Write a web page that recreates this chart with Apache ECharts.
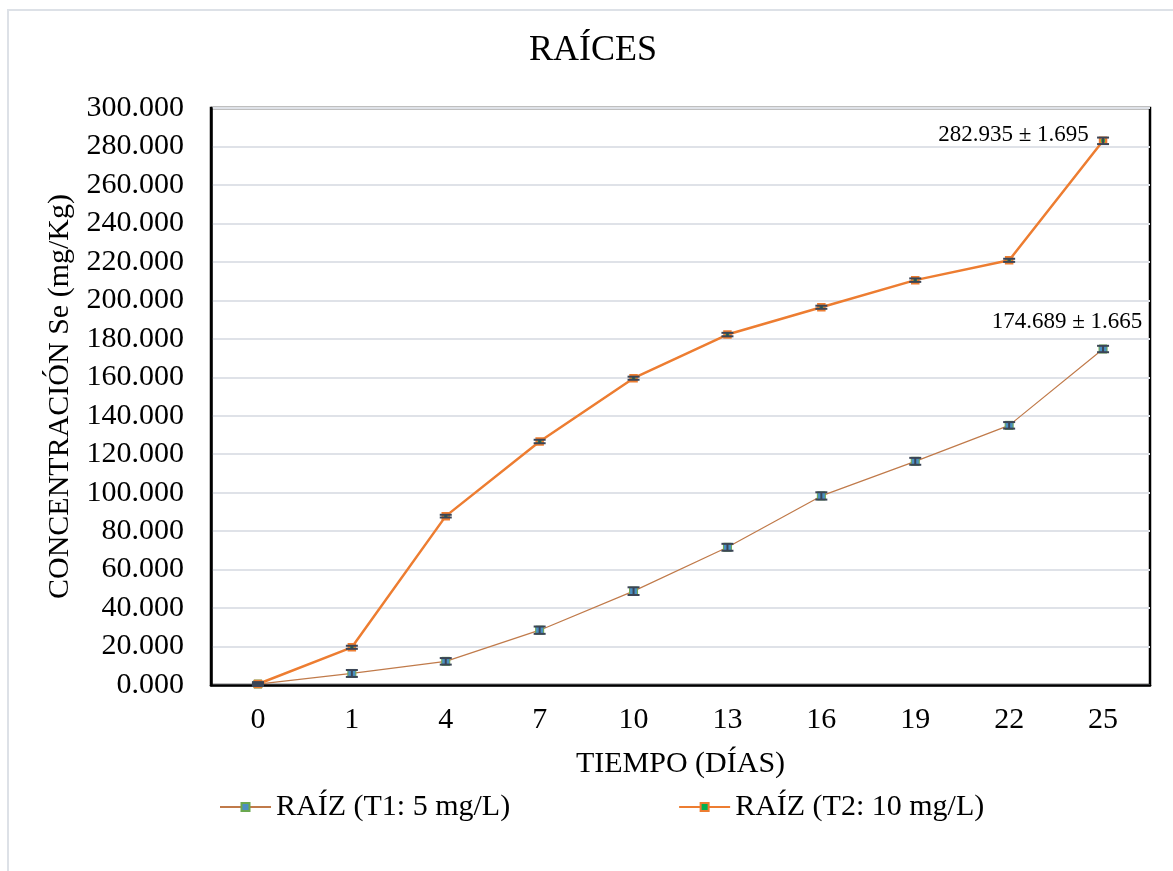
<!DOCTYPE html>
<html>
<head>
<meta charset="utf-8">
<style>
  html, body { margin: 0; padding: 0; background: #ffffff; }
  #chart { width: 1173px; height: 871px; }
</style>
<script src="https://cdn.jsdelivr.net/npm/echarts@6/dist/echarts.min.js"></script>
</head>
<body>
<div id="chart"></div>
<script>
// datos
const dias = ['0', '1', '4', '7', '10', '13', '16', '19', '22', '25'];
const raizT1 = [0.5, 6.0, 12.3, 28.5, 48.8, 71.6, 98.3, 116.3, 135.0, 174.689];
const errT1 = [1.0, 1.8, 1.7, 1.9, 2.0, 1.8, 1.9, 1.8, 1.7, 1.665];
const raizT2 = [0.5, 19.6, 87.8, 126.6, 159.5, 182.2, 196.4, 210.5, 220.8, 282.935];
const errT2 = [0.5, 0.8, 0.7, 0.9, 0.8, 0.9, 0.8, 0.9, 0.8, 1.695];
const yTicks = { min: 0, max: 300, interval: 20 };

const FONT = 'Liberation Serif';
const chart = echarts.init(document.getElementById('chart'));

function etiqueta(vals, errs, i) {
  return vals[i].toFixed(3) + ' ± ' + errs[i].toFixed(3);
}

// solo el ultimo punto lleva etiqueta
function conEtiqueta(vals, errs, labelOpts) {
  return vals.map((v, i) => {
    if (i !== vals.length - 1) return v;
    return { value: v, label: Object.assign({ show: true, formatter: etiqueta(vals, errs, i) }, labelOpts) };
  });
}

function errorBars(vals, errs) {
  return vals.map((v, i) => [i, v - errs[i], v + errs[i]]);
}

function renderError(params, api) {
  const x = api.value(0);
  const lo = api.coord([x, api.value(1)]);
  const hi = api.coord([x, api.value(2)]);
  const w = 6;
  const st = { stroke: '#3b4556', lineWidth: 2 };
  return {
    type: 'group',
    children: [
      { type: 'line', shape: { x1: hi[0], y1: hi[1], x2: lo[0], y2: lo[1] }, style: st },
      { type: 'line', shape: { x1: hi[0] - w, y1: hi[1], x2: hi[0] + w, y2: hi[1] }, style: st },
      { type: 'line', shape: { x1: lo[0] - w, y1: lo[1], x2: lo[0] + w, y2: lo[1] }, style: st }
    ]
  };
}

const option = {
  backgroundColor: '#ffffff',
  animation: false,
  textStyle: { fontFamily: FONT, color: '#000' },
  graphic: [{
    type: 'rect', silent: true, z: -10,
    shape: { x: 8, y: 10, width: 1200, height: 900 },
    style: { fill: 'none', stroke: '#dde1e7', lineWidth: 2 }
  }],
  title: {
    text: 'RAÍCES',
    left: 529,
    top: 33,
    padding: 0,
    textStyle: { fontFamily: FONT, fontSize: 36, fontWeight: 'normal', color: '#000' }
  },
  legend: {
    left: 219,
    top: 792,
    padding: 0,
    itemGap: 168,
    itemWidth: 51,
    itemHeight: 10,
    textStyle: { fontFamily: FONT, fontSize: 30, color: '#000' },
    data: ['RAÍZ (T1: 5 mg/L)', 'RAÍZ (T2: 10 mg/L)']
  },
  grid: {
    left: 211, right: 23, top: 108, bottom: 186,
    show: true, borderColor: '#000', borderWidth: 2.5
  },
  xAxis: {
    type: 'category',
    data: dias,
    boundaryGap: true,
    name: 'TIEMPO (DÍAS)',
    nameLocation: 'middle',
    nameGap: 64,
    nameTextStyle: { fontFamily: FONT, fontSize: 30, color: '#000' },
    axisLine: { lineStyle: { color: '#000', width: 2.5 } },
    axisTick: { show: false },
    axisLabel: { fontFamily: FONT, fontSize: 30, color: '#000', margin: 20 }
  },
  yAxis: {
    type: 'value',
    min: yTicks.min, max: yTicks.max, interval: yTicks.interval,
    name: 'CONCENTRACIÓN Se (mg/Kg)',
    nameLocation: 'middle',
    nameGap: 134,
    nameTextStyle: { fontFamily: FONT, fontSize: 30, color: '#000' },
    axisLine: { show: true, lineStyle: { color: '#000', width: 2.5 } },
    axisTick: { show: false },
    axisLabel: { fontFamily: FONT, fontSize: 30, color: '#000', margin: 27,
      formatter: v => v.toFixed(3) },
    splitLine: { lineStyle: { color: '#dfe2e8', width: 2 } }
  },
  series: [
    {
      name: 'RAÍZ (T1: 5 mg/L)',
      type: 'line',
      data: conEtiqueta(raizT1, errT1, {
        position: 'top', offset: [-36, -6],
        fontFamily: FONT, fontSize: 23, color: '#000'
      }),
      symbol: 'rect',
      symbolSize: 8,
      lineStyle: { color: '#c07a4a', width: 1.2 },
      itemStyle: { color: '#4b8fc2', borderColor: '#6aa84f', borderWidth: 1 },
      z: 3
    },
    {
      name: 'RAÍZ (T2: 10 mg/L)',
      type: 'line',
      data: conEtiqueta(raizT2, errT2, {
        position: 'left', distance: 10, offset: [0, -6],
        fontFamily: FONT, fontSize: 23, color: '#000'
      }),
      symbol: 'rect',
      symbolSize: 6,
      lineStyle: { color: '#ed7d31', width: 2.5 },
      itemStyle: { color: '#00b050', borderColor: '#ed7d31', borderWidth: 2.5 },
      z: 4
    },
    {
      type: 'custom',
      name: 'errT1',
      renderItem: renderError,
      data: errorBars(raizT1, errT1),
      encode: { x: 0, y: [1, 2] },
      z: 5,
      silent: true
    },
    {
      type: 'custom',
      name: 'errT2',
      renderItem: renderError,
      data: errorBars(raizT2, errT2),
      encode: { x: 0, y: [1, 2] },
      z: 5,
      silent: true
    }
  ]
};

chart.setOption(option);
</script>
</body>
</html>
